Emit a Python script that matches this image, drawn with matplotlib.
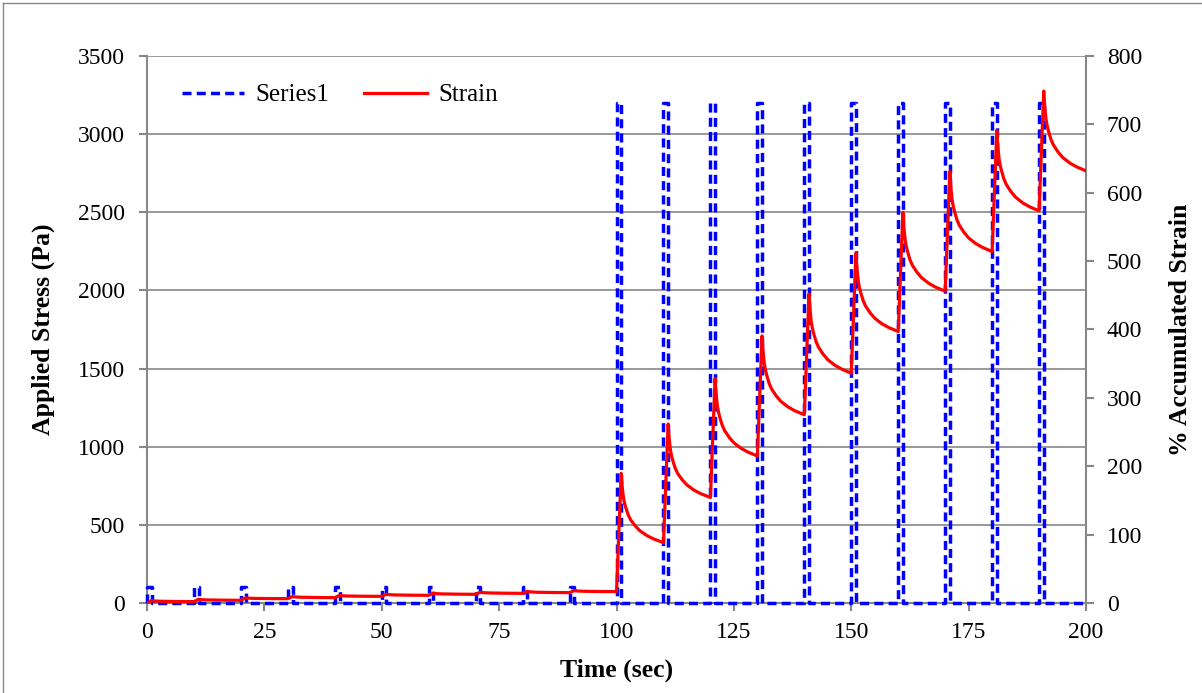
import numpy as np
import matplotlib
matplotlib.use('Agg')
import matplotlib.pyplot as plt
from matplotlib.lines import Line2D

plt.rcParams['font.family'] = ['Liberation Serif', 'DejaVu Serif']

# loading cycles: 1 s creep, 9 s recovery
cycle_start = [0, 10, 20, 30, 40, 50, 60, 70, 80, 90,
               100, 110, 120, 130, 140, 150, 160, 170, 180, 190]
stress = [100, 100, 100, 100, 100, 100, 100, 100, 100, 100,
          3200, 3200, 3200, 3200, 3200, 3200, 3200, 3200, 3200, 3200]
strain_start = [0.0, 2.0, 3.9, 6.3, 7.8, 9.7, 11.2, 12.7, 14.1, 15.1,
                16.6, 88.3, 154.3, 215.0, 275.3, 336.1, 397.0, 456.0, 514.0, 573.5]
strain_peak = [3.5, 5.5, 7.5, 9.5, 11.0, 12.8, 14.3, 15.8, 17.0, 18.2,
               189.6, 261.8, 328.3, 390.7, 452.0, 511.7, 571.5, 631.0, 691.0, 748.7]
strain_final = 632.0
t_end = 200

# recovery shape (seconds after peak, fraction recovered)
recov_dt = [0, 0.1, 0.25, 0.5, 0.75, 1.0, 1.5, 2.0, 3.0, 4.0, 5.5, 7.0, 9.0]
recov_frac = [0, 0.10, 0.22, 0.36, 0.44, 0.50, 0.60, 0.67, 0.76, 0.83, 0.90, 0.95, 1.0]

# build the two series
st_t, st_v = [], []
sn_t, sn_v = [], []
ends = strain_start[1:] + [strain_final]
for t0, s, a, p, e in zip(cycle_start, stress, strain_start, strain_peak, ends):
    st_t += [t0, t0, t0 + 1, t0 + 1]
    st_v += [0, s, s, 0]
    sn_t += [t0]
    sn_v += [a]
    for dt, fr in zip(recov_dt, recov_frac):
        sn_t.append(t0 + 1 + dt)
        sn_v.append(p - fr * (p - e))
st_t.append(t_end)
st_v.append(0)

grey = '#878787'

fig = plt.figure(figsize=(12.02, 6.93), dpi=100)
ax = fig.add_axes([0.1223, 0.1299, 0.7812, 0.7893])
ax2 = ax.twinx()

l1, = ax.plot(st_t, st_v, color='#0000ff', lw=2.5, dashes=(2.6, 1.5), label='Series1',
              clip_on=False, zorder=3)
l2, = ax2.plot(sn_t, sn_v, color='#ff0000', lw=2.3, label='Strain',
               solid_joinstyle='round')

ax.set_xlim(0, 200)
ax.set_ylim(0, 3500)
ax2.set_ylim(0, 800)
ax.set_xticks(np.arange(0, 201, 25))
ax.set_yticks(np.arange(0, 3501, 500))
ax2.set_yticks(np.arange(0, 801, 100))

ax.yaxis.grid(True, color=grey, lw=1.2)
ax.set_axisbelow(True)

for a in (ax, ax2):
    for side in a.spines:
        a.spines[side].set_color(grey)
        a.spines[side].set_linewidth(1.5)
        a.spines[side].set_zorder(0.5)
    a.spines['top'].set_visible(False)
ax.spines['right'].set_visible(False)
ax2.spines['left'].set_visible(False)
ax2.spines['bottom'].set_visible(False)

ax.tick_params(axis='both', direction='out', length=6, width=1.5, color=grey, labelsize=17)
ax.tick_params(axis='y', pad=10)
ax.tick_params(axis='x', pad=8)
ax2.tick_params(axis='y', direction='out', length=6, width=1.5, color=grey, labelsize=17, pad=9)

ax.set_xlabel('Time (sec)', fontsize=18.5, fontweight='bold', labelpad=11)
ax.set_ylabel('Applied Stress (Pa)', fontsize=18.5, fontweight='bold', labelpad=16)
ax2.set_ylabel('% Accumulated Strain', fontsize=18.5, fontweight='bold', labelpad=19)

ax2.legend(handles=[l1, l2], loc='upper left', bbox_to_anchor=(0.013, 0.99), ncol=2,
           frameon=False, fontsize=18, handlelength=2.5, handletextpad=0.45,
           columnspacing=1.4)

# outer chart border (only top and left edge are inside the crop)
fig.add_artist(Line2D([0.0025, 1.0], [0.9957, 0.9957], transform=fig.transFigure, color=grey, lw=1))
fig.add_artist(Line2D([0.0025, 0.0025], [0.0, 0.9957], transform=fig.transFigure, color=grey, lw=1))

fig.savefig('out.png', dpi=100)
